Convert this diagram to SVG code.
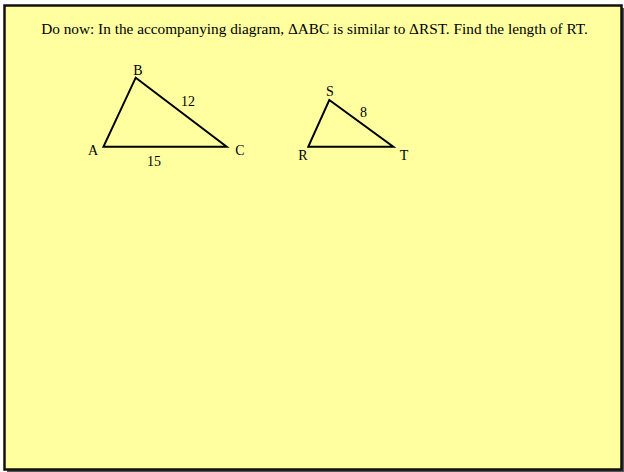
<svg xmlns="http://www.w3.org/2000/svg" width="624" height="472" viewBox="0 0 624 472">
<style>
text{font-family:"Liberation Serif","Times New Roman",serif;fill:#000}
.t{font-size:15.3px}
.l{font-size:14px;text-anchor:middle}
.tri{fill:none;stroke:#000;stroke-width:2;stroke-linejoin:miter}
</style>
<rect x="0" y="0" width="624" height="472" fill="#fff"/>
<rect x="7" y="8" width="617" height="464" fill="#555"/>
<rect x="4.5" y="5.5" width="617" height="464" fill="#FFFFA0" stroke="#111" stroke-width="2.5"/>
<text class="t" x="314.5" y="34" text-anchor="middle">Do now: In the accompanying diagram, ΔABC is similar to ΔRST. Find the length of RT.</text>
<g id="triangle-ABC">
<polygon class="tri" points="103.5,146.7 135.7,77.7 226.7,146.7"/>
<text class="l" x="138" y="74.5">B</text>
<text class="l" x="93" y="154.5">A</text>
<text class="l" x="240" y="154.5">C</text>
<text class="l" x="188" y="106">12</text>
<text class="l" x="154" y="166">15</text>
</g>
<g id="triangle-RST">
<polygon class="tri" points="308.3,146.7 329.3,100 393.3,146.7"/>
<text class="l" x="330" y="96">S</text>
<text class="l" x="303" y="159.5">R</text>
<text class="l" x="404" y="160">T</text>
<text class="l" x="363.5" y="117">8</text>
</g>
<g id="connectors"/>
</svg>
